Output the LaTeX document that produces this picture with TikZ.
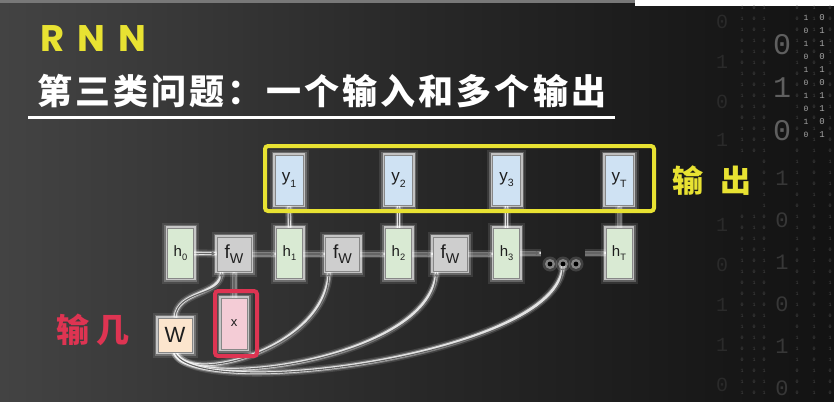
\documentclass[tikz,border=0pt]{standalone}
\usepackage{fontspec}
\usepackage{graphicx}
\setmainfont{Liberation Sans}
\setsansfont{Liberation Sans}
\newfontfamily\cjktitle{Noto Sans CJK SC}[LetterSpace=9]
\newfontfamily\cjkout{Noto Sans CJK SC}[LetterSpace=55]
\newfontfamily\cjkin{Noto Sans CJK SC}[LetterSpace=21]
\newfontfamily\rnnfont{Poppins}[LetterSpace=36]
\newfontfamily\bitfont{Liberation Mono}
\usetikzlibrary{arrows.meta}
\pgfdeclarelayer{bg}
\pgfsetlayers{bg,main}
\definecolor{ylw}{RGB}{232,226,50}
\definecolor{redc}{RGB}{222,52,82}
\definecolor{hgreen}{RGB}{217,234,211}
\definecolor{yblue}{RGB}{207,226,243}
\definecolor{fgray}{RGB}{206,206,206}
\definecolor{wor}{RGB}{252,229,205}
\definecolor{xpink}{RGB}{244,204,214}
\definecolor{bord}{RGB}{135,135,135}
\definecolor{conn}{RGB}{100,100,100}
\definecolor{ink}{RGB}{30,30,30}
\definecolor{bg1}{RGB}{92,92,92}
\definecolor{bg2}{RGB}{62,62,62}
\definecolor{bg3}{RGB}{40,40,40}
\definecolor{bg4}{RGB}{22,22,22}
\definecolor{bg5}{RGB}{12,12,12}
\definecolor{bg6}{RGB}{8,8,8}
\definecolor{topgray}{RGB}{120,120,120}
\definecolor{bA}{RGB}{42,42,42}
\definecolor{bB}{RGB}{95,95,95}
\definecolor{bC}{RGB}{55,55,55}
\definecolor{bD}{RGB}{165,165,165}
\definecolor{bF}{RGB}{70,70,70}
\pgfdeclarehorizontalshading{bgsh}{100bp}{color(0bp)=(bg1); color(30bp)=(bg2); color(50bp)=(bg3); color(70bp)=(bg4); color(85bp)=(bg5); color(100bp)=(bg6)}
\newcommand\lab[3][0.62]{#2\raisebox{-0.3em}{\scalebox{#1}{#3}}}
\begin{document}
\begin{tikzpicture}[x=1pt,y=-1pt,
  glow/.style={preaction={draw=white,line width=11pt,opacity=.10,rounded corners=5pt},
               preaction={draw=white,line width=7pt,opacity=.22,rounded corners=3pt},
               preaction={draw=white,line width=4pt,opacity=.6}},
  lglow/.style={preaction={draw=white,-,line width=8pt,opacity=.12},
                preaction={draw=white,-,line width=5pt,opacity=.3},
                preaction={draw=white,-,line width=2.8pt,opacity=.8}},
  box/.style={glow,draw=bord,line width=0.9pt,inner sep=0pt,text=ink,font=\fontsize{15}{15}\selectfont},
  hbox/.style={box,fill=hgreen,minimum width=26pt,minimum height=50pt},
  ybox/.style={box,fill=yblue,minimum width=28pt,minimum height=50pt,font=\fontsize{17}{17}\selectfont},
  fbox/.style={box,fill=fgray,minimum width=34pt,minimum height=34pt,font=\fontsize{19}{19}\selectfont},
  conn/.style={draw=conn,line width=1.1pt,-{Latex[length=5pt,width=4.5pt]},lglow},
  bit/.style={font=\bitfont\fontsize{#1}{#1}\selectfont,inner sep=0pt},
]
\useasboundingbox (0,0) rectangle (834,401);
\begin{pgfonlayer}{bg}
\shade[shading=bgsh] (0,0) rectangle (834,401);
\fill[topgray] (0,0) rectangle (635,3);
\fill[white] (635,0) rectangle (834,6);
% binary rain (kept clear of the label 输出)
\foreach \d/\yy [count=\i] in {0/22,1/62,0/102,1/140,1/225,0/265,1/305,1/345,0/385}
  \node[bit=20,text=bA] (ba\i) at (722,\yy) {\d};
\foreach \d [count=\i from 0] in {0,1,0}
  \node[bit=30,text=bB] (bb\i) at (782,45+\i*43) {\d};
\foreach \d [count=\i from 0] in {1,0,1,0,1,0}
  \node[bit=22,text=bC] (bc\i) at (782,178+\i*42) {\d};
\foreach \c/\x in {1/742,2/754,3/764,4/797,5/814,6/830}
  \foreach \i in {0,...,35} {
    \pgfmathtruncatemacro\yy{8+\i*11}
    \pgfmathtruncatemacro\keep{(\yy<152 || \yy>206 || \x>760) ? 1 : 0}
    \ifnum\keep=1
      \pgfmathtruncatemacro\dd{mod(int(\i*4.37+\c*3),2)}
      \node[bit=5,text=bF] (bs\c-\i) at (\x,\yy) {\dd};
    \fi
  }
\foreach \d [count=\i from 0] in {1,0,1,0,1,0,1,0,1,0}
  \node[bit=8,text=bD] (bd\i) at (806,18+\i*13) {\d};
\foreach \d [count=\i from 0] in {0,1,1,0,1,0,1,1,0,1}
  \node[bit=9,text=bD] (be\i) at (822,18+\i*13) {\d};
\end{pgfonlayer}

% titles
\node[anchor=base west,inner sep=0pt,text=ylw,font=\rnnfont\bfseries\fontsize{37}{37}\selectfont] (rnn) at (40,52) {RNN};
\node[anchor=base west,inner sep=0pt,text=white,font=\cjktitle\bfseries\fontsize{35}{35}\selectfont] (title) at (37,104) {第三类问题：一个输入和多个输出};
\draw[white,line width=3pt] (28,117) -- (615,117);

% nodes
\node[hbox] (h0) at (180.5,253) {\lab{h}{0}};
\node[hbox] (h1) at (289.5,253) {\lab{h}{1}};
\node[hbox] (h2) at (398.5,253) {\lab{h}{2}};
\node[hbox] (h3) at (506.5,253) {\lab{h}{3}};
\node[hbox] (hT) at (619,253) {\lab{h}{T}};
\node[fbox] (f1) at (234,254) {\lab[0.75]{f}{W}};
\node[fbox] (f2) at (342.5,254) {\lab[0.75]{f}{W}};
\node[fbox] (f3) at (450,254) {\lab[0.75]{f}{W}};
\node[ybox] (y1) at (289,180) {\lab{y}{1}};
\node[ybox] (y2) at (398.5,180) {\lab{y}{2}};
\node[ybox] (y3) at (506.5,180) {\lab{y}{3}};
\node[ybox] (yT) at (619,180) {\lab{y}{T}};
\node[box,fill=wor,minimum width=34pt,minimum height=34pt,font=\fontsize{22}{22}\selectfont] (W) at (175,335) {W};
\node[box,fill=xpink,minimum width=26pt,minimum height=51pt,font=\fontsize{13}{13}\selectfont] (x) at (234,323.5) {x};
\node[minimum width=44pt,minimum height=12pt,inner sep=0pt] (dots) at (563,264) {};
\foreach \dx in {-13,0,13} {
  \fill[white,opacity=.15] ([xshift=\dx pt]dots.center) circle (7.5pt);
  \fill[white,opacity=.35] ([xshift=\dx pt]dots.center) circle (5pt);
  \fill[black] ([xshift=\dx pt]dots.center) circle (2.4pt);
}

% connectors (under the nodes)
\begin{pgfonlayer}{bg}
\draw[conn] (h0) -- (f1);
\draw[conn] (f1) -- (h1.west |- f1.east);
\draw[conn] (h1.east |- f2.west) -- (f2);
\draw[conn] (f2) -- (h2.west |- f2.east);
\draw[conn] (h2.east |- f3.west) -- (f3);
\draw[conn] (f3) -- (h3.west |- f3.east);
\draw[conn] (h3.east) -- (h3.east -| dots.west);
\draw[conn] (dots.east |- hT.west) -- (hT.west);
\foreach \n in {1,2,3,T} \draw[conn] (h\n.north) -- (y\n.south);
\draw[conn] (x.north) -- (f1.south);
\draw[conn] (W.north) .. controls +(2,-28) and +(0,25) .. ([xshift=5pt]f1.south west);
\draw[conn] (W.south) .. controls +(10,33) and +(-3,79) .. ([xshift=4pt]f2.south west);
\draw[conn] (W.south) .. controls +(15,40) and +(-5,88) .. ([xshift=4pt]f3.south west);
\draw[conn] (W.south) .. controls +(20,50) and +(-3,90) .. ([yshift=5pt]dots.south);
\end{pgfonlayer}

% highlight frames
\draw[ylw,line width=4pt,rounded corners=3pt] (265,146) rectangle (654,211);
\draw[redc,line width=4pt,rounded corners=3pt] (215,291) rectangle (257,356);
\node[anchor=base west,inner sep=0pt,text=ylw,font=\cjkout\bfseries\fontsize{31}{31}\selectfont] (outlbl) at (672,192) {输出};
\node[anchor=base west,inner sep=0pt,text=redc,font=\cjkin\bfseries\fontsize{33}{33}\selectfont] (inlbl) at (56,342) {输几};
\end{tikzpicture}
\end{document}
